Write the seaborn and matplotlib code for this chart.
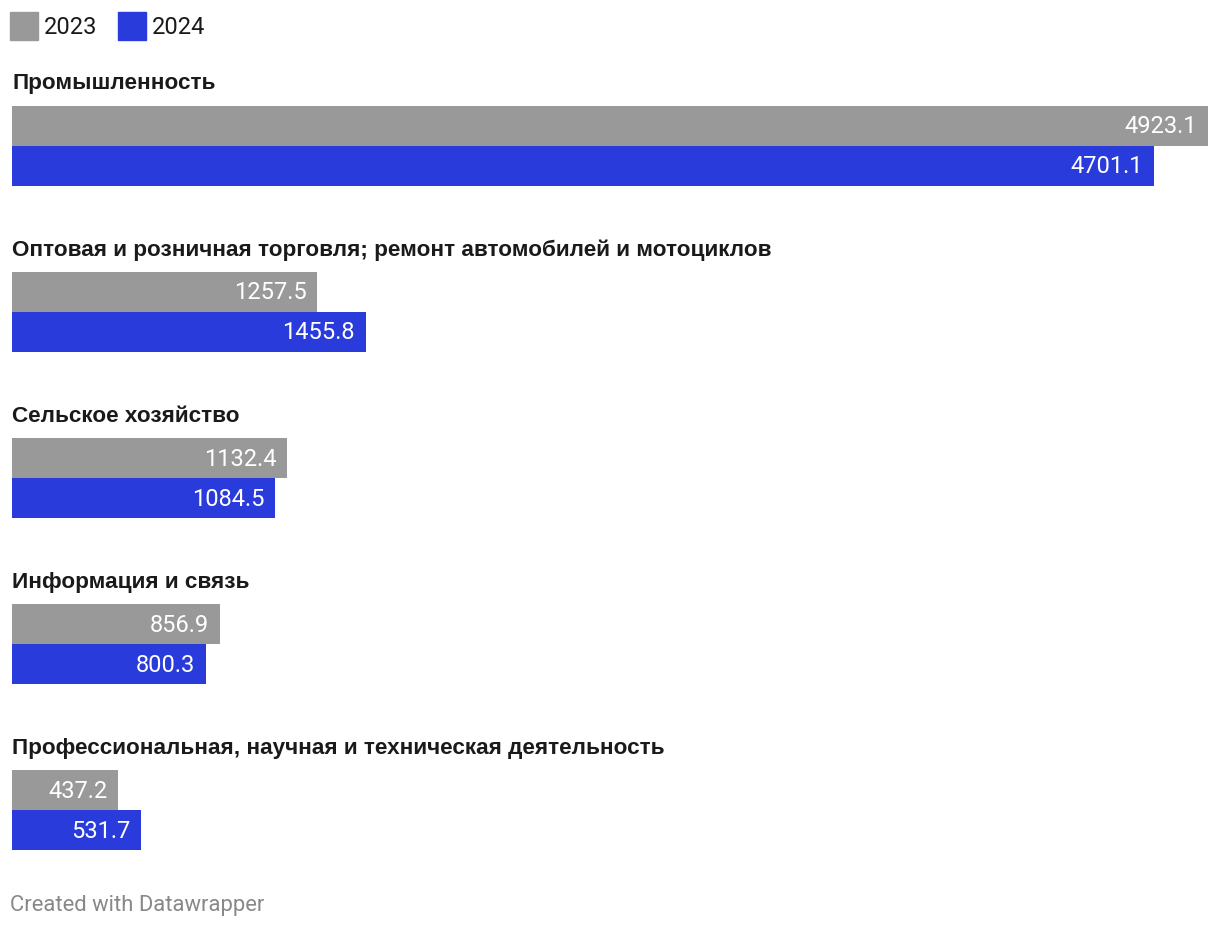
import matplotlib
matplotlib.use("Agg")
import matplotlib.pyplot as plt
import seaborn as sns
import pandas as pd

categories = [
    "Промышленность",
    "Оптовая и розничная торговля; ремонт автомобилей и мотоциклов",
    "Сельское хозяйство",
    "Информация и связь",
    "Профессиональная, научная и техническая деятельность",
]
years = ["2023", "2024"]
values_2023 = [4923.1, 1257.5, 1132.4, 856.9, 437.2]
values_2024 = [4701.1, 1455.8, 1084.5, 800.3, 531.7]

colors = {"2023": "#999999", "2024": "#2a3bdc"}

sns.set_theme(style="white")
plt.rcParams["font.family"] = ["Roboto", "DejaVu Sans"]

W, H = 1220, 930
fig = plt.figure(figsize=(W / 100, H / 100), dpi=100)
fig.patch.set_facecolor("white")

xmax = max(values_2023 + values_2024)
left, right = 12, 1208
bar_h = 80
first_top = 106
step = 166

for i, cat in enumerate(categories):
    df = pd.DataFrame({"year": years, "value": [values_2023[i], values_2024[i]]})
    top = first_top + i * step
    ax = fig.add_axes([left / W, 1 - (top + bar_h) / H, (right - left) / W, bar_h / H])
    sns.barplot(data=df, x="value", y="year", hue="year", palette=colors,
                width=1.0, ax=ax, legend=False, saturation=1, linewidth=0,
                edgecolor="none")
    ax.set_xlim(0, xmax)
    ax.set_ylim(1.5, -0.5)
    ax.axis("off")
    for j, v in enumerate(df["value"]):
        ax.annotate(f"{v:.1f}", xy=(v, j), xytext=(-11, -1), textcoords="offset pixels",
                    ha="right", va="center", color="white", fontsize=17,
                    family=["Roboto", "DejaVu Sans"])
    fig.text(left / W, 1 - (top - 22) / H, cat, ha="left", va="center",
             fontsize=16.2, fontweight="bold", color="#1a1a1a",
             family=["Liberation Sans", "DejaVu Sans"])

# legend
lx = 10
for y in years:
    fig.patches.append(plt.Rectangle((lx / W, 1 - 40 / H), 28 / W, 28 / H,
                                     transform=fig.transFigure, color=colors[y]))
    fig.text((lx + 34) / W, 1 - 27 / H, y, ha="left", va="center",
             fontsize=17, color="#1a1a1a")
    lx += 108

fig.text(10 / W, 1 - 905 / H, "Created with Datawrapper", ha="left", va="center",
         fontsize=15.8, color="#888888")

fig.savefig("out.png", dpi=100, facecolor="white")
